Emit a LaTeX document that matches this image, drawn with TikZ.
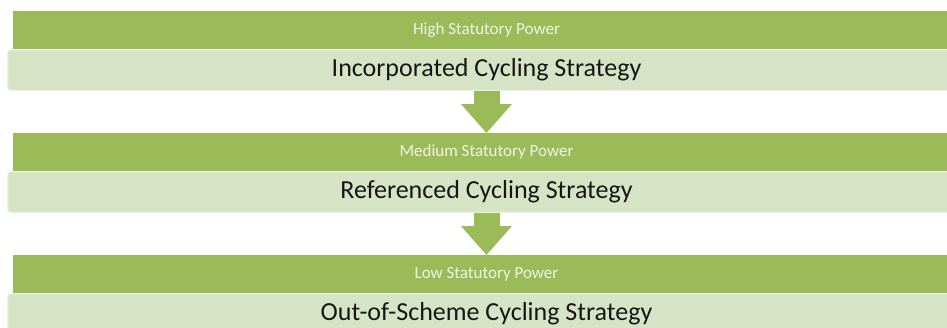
\documentclass[tikz,border=0pt]{standalone}
\usepackage{fontspec}
\setmainfont{Carlito}
\usetikzlibrary{positioning,arrows.meta}
\definecolor{levelGreen}{HTML}{9BBB59}
\definecolor{strategyGreen}{HTML}{D6E3C5}
\definecolor{strategyEdge}{HTML}{E1EAD5}
\definecolor{levelText}{HTML}{EEF3E6}
\definecolor{strategyText}{HTML}{161616}

\begin{document}
\begin{tikzpicture}
[x=1pt,y=-1pt,%
  levelDecorate/.style={shape=rectangle,fill=levelGreen,minimum width=947pt,minimum height=38pt,inner sep=0pt,text=levelText,font=\fontsize{17}{19}\selectfont},%
  strategyDecorate/.style={shape=rectangle,fill=strategyGreen,draw=strategyEdge,line width=1.2pt,rounded corners=3pt,minimum width=957pt,minimum height=40pt,inner sep=0pt,text=strategyText,font=\fontsize{26}{30}\selectfont},%
  arrowDecorate/.style={-{Triangle[width=51pt,length=29pt,line width=0pt]},line width=26pt,levelGreen}]
\clip (0,0) rectangle (947,327);
\fill[white] (0,0) rectangle (947,327);
%% levels and strategies
\foreach \name/\y/\level/\strategy in {1/11/High Statutory Power/Incorporated Cycling Strategy, 2/133/Medium Statutory Power/Referenced Cycling Strategy, 3/255/Low Statutory Power/Out-of-Scheme Cycling Strategy}
{
  \node (level\name) at (486.5,\y) [levelDecorate,anchor=north] {\level};
  \node (strategy\name) [strategyDecorate,below=0pt of level\name] {\strategy};
}
%% arrows
\path
\foreach \startnode/\endnode in {1/2, 2/3}
{
  (strategy\startnode) edge[arrowDecorate] (level\endnode)
};
\end{tikzpicture}
\end{document}
